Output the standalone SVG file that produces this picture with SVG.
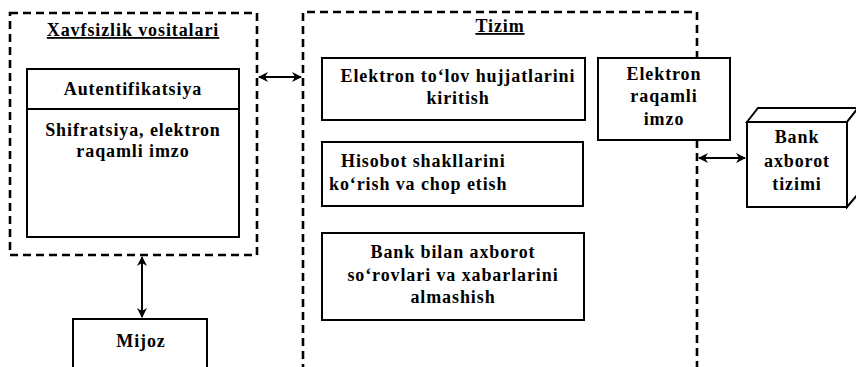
<svg xmlns="http://www.w3.org/2000/svg" width="856" height="367" viewBox="0 0 856 367">
  <style>
    .dash { fill: none; stroke: #000; stroke-width: 2.6; stroke-dasharray: 8 5; }
    .box { fill: #fff; stroke: #000; stroke-width: 2; }
    .line { fill: none; stroke: #000; stroke-width: 2; }
    text { font-family: "Liberation Serif", "Times New Roman", serif; font-weight: bold; font-size: 18px; letter-spacing: 0.9px; fill: #000; }
    .c { text-anchor: middle; }
    .u { text-decoration: underline; }
  </style>
  <defs>
    <marker id="arr" viewBox="0 0 10 10" refX="9" refY="5" markerWidth="5" markerHeight="5" orient="auto-start-reverse">
      <path d="M0,0 L10,5 L0,10 L3,5 Z" fill="#000"/>
    </marker>
  </defs>

  <rect width="856" height="367" fill="#fff"/>

  <!-- security tools group -->
  <g id="xavfsizlik">
    <rect class="dash" x="10" y="13" width="247" height="242"/>
    <text class="c u" x="133" y="36">Xavfsizlik vositalari</text>
    <rect class="box" x="27" y="69" width="212" height="168"/>
    <line class="line" x1="27" y1="109" x2="239" y2="109"/>
    <text class="c" x="133" y="95">Autentifikatsiya</text>
    <text class="c" x="133" y="136">Shifratsiya, elektron</text>
    <text class="c" x="133" y="157">raqamli imzo</text>
  </g>

  <!-- client -->
  <g id="mijoz">
    <rect class="box" x="73" y="319" width="134" height="60"/>
    <text class="c" x="141" y="347">Mijoz</text>
  </g>

  <!-- system boundary -->
  <g id="tizim">
    <path class="dash" d="M303,372 V12 H697 V58 M697,140 V372"/>
    <text class="c u" x="500" y="32">Tizim</text>
  </g>

  <g id="kiritish">
    <rect class="box" x="322" y="58" width="263" height="62"/>
    <text class="c" x="458" y="82">Elektron to‘lov hujjatlarini</text>
    <text class="c" x="458" y="104">kiritish</text>
  </g>

  <g id="hisobot">
    <rect class="box" x="322" y="142" width="261" height="64"/>
    <text x="341" y="167">Hisobot shakllarini</text>
    <text x="329" y="190">ko‘rish va chop etish</text>
  </g>

  <g id="almashish">
    <rect class="box" x="322" y="233" width="262" height="87"/>
    <text class="c" x="453" y="258">Bank bilan axborot</text>
    <text class="c" x="453" y="281">so‘rovlari va xabarlarini</text>
    <text class="c" x="453" y="303">almashish</text>
  </g>

  <g id="imzo">
    <rect class="box" x="598" y="58" width="132" height="82"/>
    <text class="c" x="664" y="80">Elektron</text>
    <text class="c" x="664" y="102">raqamli</text>
    <text class="c" x="664" y="125">imzo</text>
  </g>

  <!-- bank information system drawn as a 3D block -->
  <g id="bank">
    <path class="box" d="M747,122 L758,108 H858 L847,122 Z"/>
    <path class="box" d="M847,122 L858,108 V194 L847,207 Z"/>
    <rect class="box" x="747" y="122" width="100" height="85"/>
    <text class="c" x="797" y="143">Bank</text>
    <text class="c" x="797" y="167">axborot</text>
    <text class="c" x="797" y="190">tizimi</text>
  </g>

  <g id="connectors">
    <line class="line" x1="259" y1="77" x2="301" y2="77" marker-start="url(#arr)" marker-end="url(#arr)"/>
    <line class="line" x1="142" y1="257" x2="142" y2="317" marker-start="url(#arr)" marker-end="url(#arr)"/>
    <line class="line" x1="699" y1="158" x2="745" y2="158" marker-start="url(#arr)" marker-end="url(#arr)"/>
  </g>
</svg>
